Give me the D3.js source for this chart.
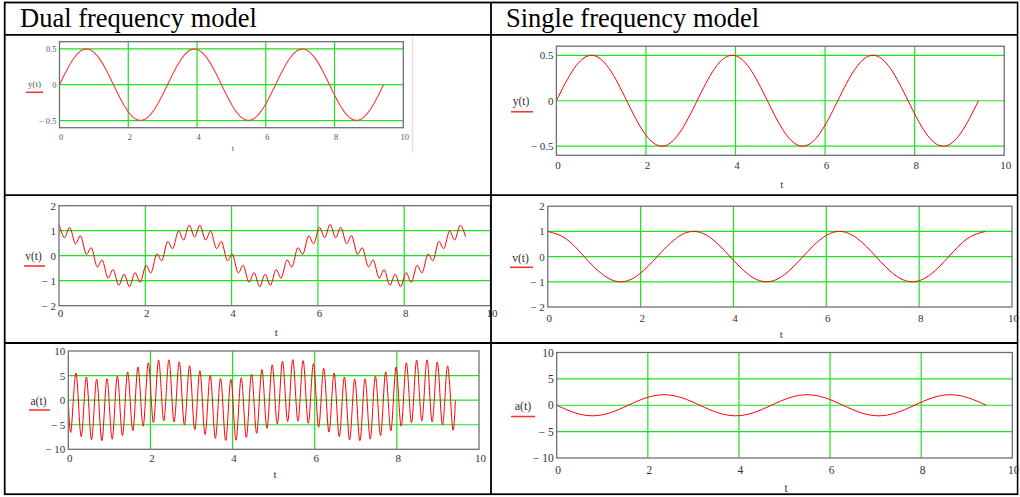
<!DOCTYPE html>
<html>
<head>
<meta charset="utf-8">
<script src="https://d3js.org/d3.v7.min.js"></script>
<style>
  body { margin: 0; background: #fff; }
  svg { display: block; }
</style>
</head>
<body>
<svg id="viz" width="1020" height="497"></svg>

<script>
var width = 1020;
var height = 497;

// ---- data ----

// single frequency model, sampled every pi/8
var tCoarse = [0, 0.393, 0.785, 1.178, 1.571, 1.963, 2.356, 2.749, 3.142, 3.534, 3.927, 4.320,
  4.712, 5.105, 5.498, 5.890, 6.283, 6.676, 7.069, 7.461, 7.854, 8.247, 8.639, 9.032, 9.425];
var ySingle = [0, 0.354, 0.5, 0.354, 0, -0.354, -0.5, -0.354, 0, 0.354, 0.5, 0.354,
  0, -0.354, -0.5, -0.354, 0, 0.354, 0.5, 0.354, 0, -0.354, -0.5, -0.354, 0];
var vSingle = [1, 0.707, 0, -0.707, -1, -0.707, 0, 0.707, 1, 0.707, 0, -0.707,
  -1, -0.707, 0, 0.707, 1, 0.707, 0, -0.707, -1, -0.707, 0, 0.707, 1];
var aSingle = [0, -1.414, -2, -1.414, 0, 1.414, 2, 1.414, 0, -1.414, -2, -1.414,
  0, 1.414, 2, 1.414, 0, -1.414, -2, -1.414, 0, 1.414, 2, 1.414, 0];

// dual frequency model, y and v at the ripple turning points
var tFine = [0, 0.126, 0.251, 0.377, 0.503, 0.628, 0.754, 0.880, 1.005, 1.131, 1.257, 1.382,
  1.508, 1.634, 1.759, 1.885, 2.011, 2.136, 2.262, 2.388, 2.513, 2.639, 2.765, 2.890, 3.016,
  3.142, 3.267, 3.393, 3.519, 3.644, 3.770, 3.896, 4.021, 4.147, 4.273, 4.398, 4.524, 4.650,
  4.775, 4.901, 5.027, 5.152, 5.278, 5.404, 5.529, 5.655, 5.781, 5.906, 6.032, 6.158, 6.283,
  6.409, 6.535, 6.660, 6.786, 6.912, 7.037, 7.163, 7.288, 7.414, 7.540, 7.665, 7.791, 7.917,
  8.042, 8.168, 8.294, 8.419, 8.545, 8.671, 8.796, 8.922, 9.048, 9.173, 9.299, 9.425];
var yDual = [0, 0.124, 0.241, 0.342, 0.422, 0.476, 0.499, 0.491, 0.452, 0.385, 0.294, 0.184,
  0.063, -0.063, -0.184, -0.294, -0.385, -0.452, -0.491, -0.499, -0.476, -0.422, -0.342, -0.241, -0.124,
  0, 0.124, 0.241, 0.342, 0.422, 0.476, 0.499, 0.491, 0.452, 0.385, 0.294, 0.184,
  0.063, -0.063, -0.184, -0.294, -0.385, -0.452, -0.491, -0.499, -0.476, -0.422, -0.342, -0.241, -0.124,
  0, 0.124, 0.241, 0.342, 0.422, 0.476, 0.499, 0.491, 0.452, 0.385, 0.294, 0.184,
  0.063, -0.063, -0.184, -0.294, -0.385, -0.452, -0.491, -0.499, -0.476, -0.422, -0.342, -0.241, -0.124,
  0];
var vDual = [1.25, 0.72, 1.13, 0.48, 0.79, 0.06, 0.31, -0.44, -0.18, -0.89, -0.56, -1.18,
  -0.74, -1.24, -0.68, -1.06, -0.39, -0.68, 0.06, -0.19, 0.56, 0.29, 0.98, 0.63, 1.22,
  0.75, 1.22, 0.63, 0.98, 0.29, 0.56, -0.19, 0.06, -0.68, -0.39, -1.06, -0.68, -1.24,
  -0.74, -1.18, -0.56, -0.89, -0.18, -0.44, 0.31, 0.06, 0.79, 0.48, 1.13, 0.72,
  1.25, 0.72, 1.13, 0.48, 0.79, 0.06, 0.31, -0.44, -0.18, -0.89, -0.56, -1.18,
  -0.74, -1.24, -0.68, -1.06, -0.39, -0.68, 0.06, -0.19, 0.56, 0.29, 0.98, 0.63, 1.22,
  0.75];

// dual frequency model, a at its peaks and troughs
var tPeak = [0, 0.063, 0.188, 0.314, 0.440, 0.565, 0.691, 0.817, 0.942, 1.068, 1.194, 1.319,
  1.445, 1.571, 1.696, 1.822, 1.948, 2.073, 2.199, 2.325, 2.450, 2.576, 2.702, 2.827, 2.953,
  3.079, 3.204, 3.330, 3.456, 3.581, 3.707, 3.833, 3.958, 4.084, 4.210, 4.335, 4.461, 4.587,
  4.712, 4.838, 4.964, 5.089, 5.215, 5.341, 5.466, 5.592, 5.718, 5.843, 5.969, 6.095, 6.220,
  6.346, 6.472, 6.597, 6.723, 6.849, 6.974, 7.100, 7.226, 7.351, 7.477, 7.603, 7.728, 7.854,
  7.980, 8.105, 8.231, 8.357, 8.482, 8.608, 8.734, 8.859, 8.985, 9.111, 9.236, 9.362, 9.425];
var aDual = [0,
  -6.50, 5.51, -7.43, 4.71, -8.06, 4.29, -8.25, 4.35, -7.94, 4.88, -7.21, 5.75, -6.25,
  6.75, -5.29, 7.62, -4.56, 8.15, -4.25, 8.21, -4.44, 7.79, -5.07, 6.99, -6.00,
  6.00, -6.99, 5.07, -7.79, 4.44, -8.21, 4.25, -8.15, 4.56, -7.62, 5.29, -6.75, 6.25,
  -5.75, 7.21, -4.88, 7.94, -4.35, 8.25, -4.29, 8.06, -4.71, 7.43, -5.51, 6.50,
  -6.50, 5.51, -7.43, 4.71, -8.06, 4.29, -8.25, 4.35, -7.94, 4.88, -7.21, 5.75, -6.25,
  6.75, -5.29, 7.62, -4.56, 8.15, -4.25, 8.21, -4.44, 7.79, -5.07, 6.99, -6.00,
  0];

// tick labels
var xTicks = [0, 2, 4, 6, 8, 10];
var yTicksPos = [-0.5, 0, 0.5];
var yTicksVel = [-2, -1, 0, 1, 2];
var yTicksAcc = [-10, -5, 0, 5, 10];

var columnTitles = ["Dual frequency model", "Single frequency model"];

// ---- layout of the six Mathcad plots ----
var panels = [
  { name: "y(t)", t: tFine, v: yDual, curve: d3.curveLinear, dom: [-0.6, 0.6], ticks: yTicksPos,
    xr: [59.5, 403.3], yr: [127.7, 41.7], fs: 8.5, lab: [34.5, 84, 26, 43, 92.3], xly: 136.7, ty: 148.3, lw: 1.1, col: "#ff3a3a" },
  { name: "y(t)", t: tCoarse, v: ySingle, curve: d3.curveNatural, dom: [-0.6, 0.6], ticks: yTicksPos,
    xr: [556.4, 1004.2], yr: [155.3, 46.2], fs: 11, lab: [521, 100.5, 511, 533, 111.8], xly: 165, ty: 183.5, lw: 1, col: "#ff0000" },
  { name: "v(t)", t: tFine, v: vDual, curve: d3.curveCardinal.tension(0), dom: [-2, 2], ticks: yTicksVel,
    xr: [59, 490.5], yr: [305.7, 205.7], fs: 11, lab: [33.5, 255.7, 24, 45, 266], xly: 313.3, ty: 331.7, lw: 1, col: "#ff0000" },
  { name: "v(t)", t: tCoarse, v: vSingle, curve: d3.curveNatural, dom: [-2, 2], ticks: yTicksVel,
    xr: [547.8, 1012], yr: [307, 206.2], fs: 11, lab: [520.5, 258, 510, 533, 267.3], xly: 317.5, ty: 333.5, lw: 1, col: "#ff0000" },
  { name: "a(t)", t: tPeak, v: aDual, curve: d3.curveCardinal.tension(0), dom: [-10, 10], ticks: yTicksAcc,
    xr: [68.3, 479], yr: [449.3, 351], fs: 11, lab: [38.5, 400.7, 29, 50, 410], xly: 457.7, ty: 474.3, lw: 1, col: "#ff0000" },
  { name: "a(t)", t: tCoarse, v: aSingle, curve: d3.curveNatural, dom: [-10, 10], ticks: yTicksAcc,
    xr: [556.7, 1012.3], yr: [458, 352.5], fs: 11.5, lab: [523, 405.5, 511, 535, 416.5], xly: 470, ty: 487.5, lw: 1, col: "#ff0000" }
];

function fmt(d) {
  return d < 0 ? "\u2212 " + Math.abs(d) : String(d);
}

var svg = d3.select("#viz");
svg.append("rect").attr("width", width).attr("height", height).attr("fill", "#fff");

// light edge of the first Mathcad region
svg.append("line")
  .attr("x1", 412.5).attr("x2", 412.5).attr("y1", 36).attr("y2", 153)
  .attr("stroke", "#e2e2e2").attr("stroke-width", 1.5);

panels.forEach(function(p) {
  var x = d3.scaleLinear().domain([0, 10]).range(p.xr);
  var y = d3.scaleLinear().domain(p.dom).range(p.yr);
  var g = svg.append("g");

  // grid: inner x ticks, and every y tick that is not on the frame
  var gridY = p.ticks.filter(function(d) { return d > p.dom[0] && d < p.dom[1]; });
  g.selectAll(".gx").data(xTicks.slice(1, -1)).enter().append("line")
    .attr("x1", function(d) { return x(d); }).attr("x2", function(d) { return x(d); })
    .attr("y1", p.yr[0]).attr("y2", p.yr[1])
    .attr("stroke", "#1ee01e").attr("stroke-width", 1.2);
  g.selectAll(".gy").data(gridY).enter().append("line")
    .attr("x1", p.xr[0]).attr("x2", p.xr[1])
    .attr("y1", function(d) { return y(d); }).attr("y2", function(d) { return y(d); })
    .attr("stroke", "#1ee01e").attr("stroke-width", 1.2);

  // curve
  var line = d3.line()
    .x(function(d) { return x(d[0]); })
    .y(function(d) { return y(d[1]); })
    .curve(p.curve);
  g.append("path").datum(d3.zip(p.t, p.v))
    .attr("d", line).attr("fill", "none")
    .attr("stroke", p.col).attr("stroke-width", p.lw);

  // frame
  g.append("rect")
    .attr("x", p.xr[0]).attr("y", p.yr[1])
    .attr("width", p.xr[1] - p.xr[0]).attr("height", p.yr[0] - p.yr[1])
    .attr("fill", "none").attr("stroke", "#707070").attr("stroke-width", 1.3);

  // tick labels
  var tickCol = p.fs < 10 ? "#555" : "#333";
  var yAxis = d3.axisLeft(y).tickValues(p.ticks).tickSize(0).tickPadding(3).tickFormat(fmt);
  var ya = g.append("g").attr("transform", "translate(" + p.xr[0] + ",0)").call(yAxis);
  var xAxis = d3.axisBottom(x).tickValues(xTicks).tickSize(0).tickPadding(0).tickFormat(fmt);
  var xa = g.append("g").attr("transform", "translate(1," + p.xly + ")").call(xAxis);
  [ya, xa].forEach(function(a) {
    a.select(".domain").remove();
    a.selectAll("text")
      .attr("font-family", "'Liberation Serif', 'Times New Roman', serif")
      .attr("font-size", p.fs).attr("fill", tickCol);
  });
  xa.selectAll("text").attr("dy", null).attr("y", 0).attr("dominant-baseline", "central");

  // axis title
  g.append("text")
    .attr("x", (p.xr[0] + p.xr[1]) / 2 + 1.5).attr("y", p.ty)
    .attr("text-anchor", "middle").attr("dominant-baseline", "central")
    .attr("font-family", "'Liberation Serif', 'Times New Roman', serif")
    .attr("font-size", p.fs).attr("fill", tickCol).text("t");

  // trace name with red underline
  g.append("text")
    .attr("x", p.lab[0]).attr("y", p.lab[1])
    .attr("text-anchor", "middle").attr("dominant-baseline", "central")
    .attr("font-family", "'Liberation Serif', 'Times New Roman', serif")
    .attr("font-size", p.fs + 0.5).attr("fill", tickCol).text(p.name);
  g.append("line")
    .attr("x1", p.lab[2]).attr("x2", p.lab[3]).attr("y1", p.lab[4]).attr("y2", p.lab[4])
    .attr("stroke", "#ff2a2a").attr("stroke-width", 1.5);
});

// ---- table ----
var colX = [20, 506];
svg.selectAll(".title").data(columnTitles).enter().append("text")
  .attr("x", function(d, i) { return colX[i]; }).attr("y", 26.5)
  .attr("font-family", "'Liberation Serif', 'Times New Roman', serif")
  .attr("font-size", 26.5).attr("fill", "#000")
  .text(function(d) { return d; });

var tb = svg.append("g").attr("stroke", "#000").attr("stroke-width", 1.8).attr("fill", "none");
tb.append("rect").attr("x", 4.7).attr("y", 2.5).attr("width", 1017.7 - 4.7).attr("height", 494.2 - 2.5);
[34.8, 195.2, 343].forEach(function(ry) {
  tb.append("line").attr("x1", 4.7).attr("x2", 1017.7).attr("y1", ry).attr("y2", ry);
});
tb.append("line").attr("x1", 491).attr("x2", 491).attr("y1", 2.5).attr("y2", 494.2);
// blank strip beyond the right border
svg.append("rect").attr("x", 1018.6).attr("y", 0).attr("width", 2).attr("height", height).attr("fill", "#fff");
</script>
</body>
</html>
